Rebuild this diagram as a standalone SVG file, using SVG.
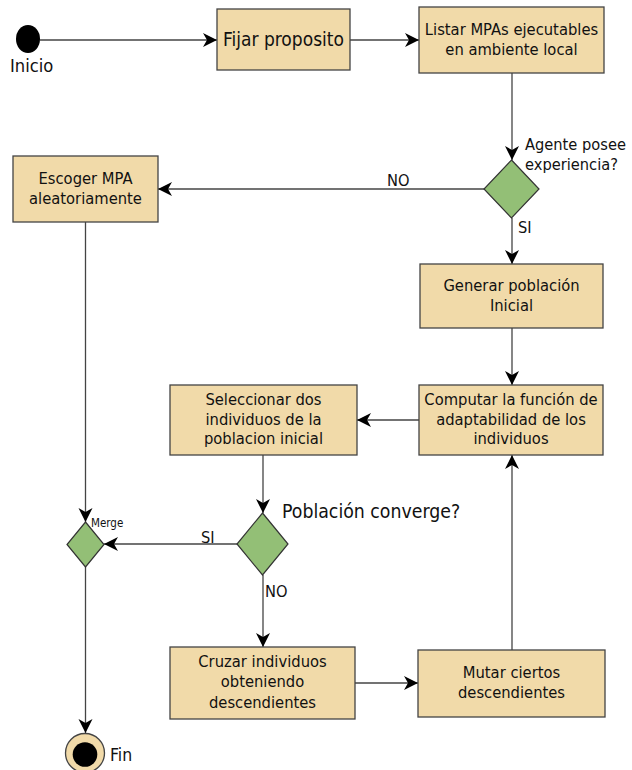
<svg xmlns="http://www.w3.org/2000/svg" width="632" height="770" viewBox="0 0 632 770">
  <style>
    text { font-family: "DejaVu Sans Condensed", "DejaVu Sans", sans-serif; fill: #111; }
    .box { fill: #f1daa9; stroke: #444; stroke-width: 1.3; }
    .dec { fill: #93bf76; stroke: #333; stroke-width: 1.2; }
    .edge { fill: none; stroke: #444; stroke-width: 1.3; marker-end: url(#arrow); }
    .t { font-size: 16.4px; text-anchor: middle; }
    .lbl { font-size: 16.3px; }
  </style>
  <defs>
    <marker id="arrow" markerUnits="userSpaceOnUse" markerWidth="16" markerHeight="16" viewBox="-15 -8 16 16" refX="0" refY="0" orient="auto">
      <path d="M0,0 L-14,-7 L-10,0 L-14,7 Z" fill="#000"/>
    </marker>
  </defs>

  <!-- connectors -->
  <g id="connectors">
    <path class="edge" d="M40,40 L217,40"/>
    <path class="edge" d="M350,40 L419,40"/>
    <path class="edge" d="M512,73 L512,160"/>
    <path class="edge" d="M484,189 L158,189"/>
    <text class="lbl" x="387" y="186">NO</text>
    <path class="edge" d="M512,218 L512,264"/>
    <text class="lbl" x="518" y="233">SI</text>
    <path class="edge" d="M512,328 L512,385"/>
    <path class="edge" d="M419,420 L357,420"/>
    <path class="edge" d="M263,455 L263,513"/>
    <path class="edge" d="M237,544 L104,544"/>
    <text class="lbl" x="201" y="543">SI</text>
    <path class="edge" d="M263,575 L263,647"/>
    <text class="lbl" x="265" y="597">NO</text>
    <path class="edge" d="M355,683 L418,683"/>
    <path class="edge" d="M512,650 L512,455"/>
    <path class="edge" d="M85.5,222 L85.5,522"/>
    <path class="edge" d="M85.5,567 L85.5,733"/>
  </g>

  <!-- initial node -->
  <g id="inicio">
    <ellipse cx="28" cy="39" rx="12" ry="14" fill="#000"/>
    <text x="10" y="72" style="font-size:18.2px">Inicio</text>
  </g>

  <g id="fijar">
    <rect class="box" x="217" y="9" width="133" height="61"/>
    <text class="t" x="283.5" y="46" style="font-size:19px">Fijar proposito</text>
  </g>

  <g id="listar">
    <rect class="box" x="419" y="7" width="185" height="66"/>
    <text class="t" x="511.5" y="35">Listar MPAs ejecutables</text>
    <text class="t" x="511.5" y="55">en ambiente local</text>
  </g>

  <g id="experiencia">
    <path class="dec" d="M511.5,160 L539,189 L511.5,218 L484,189 Z"/>
    <text class="lbl" x="525" y="150">Agente posee</text>
    <text class="lbl" x="525" y="170">experiencia?</text>
  </g>

  <g id="escoger">
    <rect class="box" x="13" y="156" width="145" height="66"/>
    <text class="t" x="85.5" y="184">Escoger MPA</text>
    <text class="t" x="85.5" y="204">aleatoriamente</text>
  </g>

  <g id="generar">
    <rect class="box" x="420" y="264" width="183" height="64"/>
    <text class="t" x="511.5" y="290.5">Generar población</text>
    <text class="t" x="511.5" y="310.5">Inicial</text>
  </g>

  <g id="computar">
    <rect class="box" x="419" y="385" width="184" height="70"/>
    <text class="t" x="511" y="405">Computar la función de</text>
    <text class="t" x="511" y="425">adaptabilidad de los</text>
    <text class="t" x="511" y="444">individuos</text>
  </g>

  <g id="seleccionar">
    <rect class="box" x="170" y="385" width="187" height="70"/>
    <text class="t" x="263.5" y="405">Seleccionar dos</text>
    <text class="t" x="263.5" y="425">individuos de la</text>
    <text class="t" x="263.5" y="444">poblacion inicial</text>
  </g>

  <g id="converge">
    <path class="dec" d="M262.5,513 L288,544 L262.5,575 L237,544 Z"/>
    <text x="282" y="518" style="font-size:19.3px">Población converge?</text>
  </g>

  <g id="merge">
    <path class="dec" d="M85.5,522 L104,544.5 L85.5,567 L67,544.5 Z"/>
    <text x="91" y="527" style="font-size:11.5px">Merge</text>
  </g>

  <g id="cruzar">
    <rect class="box" x="170" y="647" width="185" height="72"/>
    <text class="t" x="262.5" y="667">Cruzar individuos</text>
    <text class="t" x="262.5" y="687">obteniendo</text>
    <text class="t" x="262.5" y="707.5">descendientes</text>
  </g>

  <g id="mutar">
    <rect class="box" x="418" y="650" width="187" height="67"/>
    <text class="t" x="511.5" y="678">Mutar ciertos</text>
    <text class="t" x="511.5" y="698">descendientes</text>
  </g>

  <!-- final node -->
  <g id="fin">
    <circle cx="85" cy="753" r="19.5" fill="#f1daa9" stroke="#444" stroke-width="1.3"/>
    <circle cx="85" cy="754.5" r="12.3" fill="#000"/>
    <text x="110" y="761" style="font-size:17.5px">Fin</text>
  </g>
</svg>
